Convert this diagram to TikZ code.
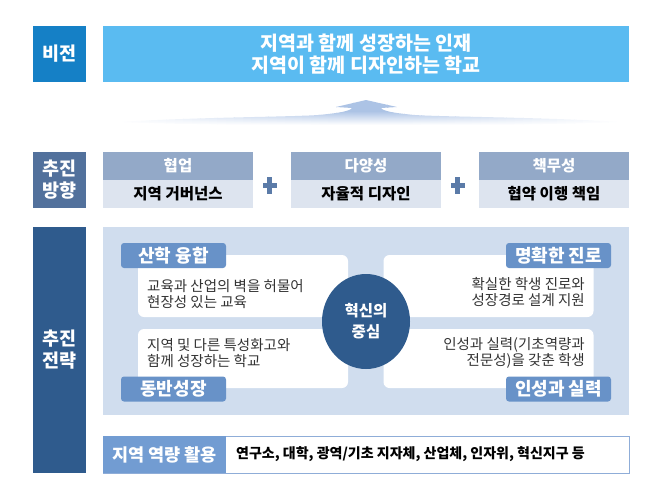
\documentclass[tikz,border=0pt]{standalone}
\usepackage{fontspec}
\setmainfont{Noto Sans CJK KR}
\usetikzlibrary{shapes.geometric}
\definecolor{visdark}{HTML}{1580C6}
\definecolor{vislight}{HTML}{5ABBF1}
\definecolor{dirc}{HTML}{52719C}
\definecolor{hdrc}{HTML}{93A9C8}
\definecolor{bodyc}{HTML}{DDE4EF}
\definecolor{plusc}{HTML}{5B7BA8}
\definecolor{navy}{HTML}{2F5B8D}
\definecolor{panelc}{HTML}{D0DDEE}
\definecolor{labc}{HTML}{6892C8}
\definecolor{botlab}{HTML}{729CD2}
\definecolor{bordc}{HTML}{8FADD8}
\definecolor{arrowc}{HTML}{ABC2E5}
\definecolor{txtc}{HTML}{333333}
\tikzset{
  sidelab/.style={fill=#1, text=white, inner sep=0pt, minimum width=53pt, align=center,
    font=\bfseries\fontsize{18.5}{22}\selectfont},
  visbox/.style={fill=vislight, text=white, inner sep=0pt, minimum width=526pt, minimum height=56pt,
    align=center, font=\bfseries\fontsize{19.5}{22}\selectfont},
  hdr/.style={fill=hdrc, text=white, inner sep=0pt, minimum width=150pt, minimum height=28pt,
    font=\bfseries\fontsize{15.5}{17}\selectfont},
  bodyb/.style={fill=bodyc, text=black, inner sep=0pt, minimum width=150pt, minimum height=28pt,
    font=\bfseries\fontsize{15.5}{17}\selectfont},
  wbox/.style={fill=white, rounded corners=6pt, inner sep=0pt, minimum width=210pt},
  lab/.style={fill=labc, text=white, rounded corners=3pt, inner sep=0pt, minimum width=105pt,
    minimum height=25pt, font=\bfseries\fontsize{18}{20}\selectfont},
  btext/.style={text=txtc, inner sep=0pt, font=\fontsize{14.5}{16}\selectfont},
}
\begin{document}
\begin{tikzpicture}[x=1pt,y=-1pt]
\useasboundingbox (0,0) rectangle (648,491);
% vision row
\node[sidelab=visdark, minimum height=56pt] (vlab) at (59.5,54) {비전};
\node[visbox] (vision) at (366,54) {지역과 함께 성장하는 인재\\지역이 함께 디자인하는 학교};
% upward arrow (soft, fading to white), drawn as a grid of flat tints
\begin{scope}
\clip (118,122) .. controls (200,117) and (290,117) .. (318,115)
  .. controls (340,113) and (350,111) .. (352,108) -- (336,107) -- (366,100) -- (397,107) -- (381,108)
  .. controls (383,111) and (393,113) .. (415,115)
  .. controls (445,117) and (540,117) .. (622,122)
  .. controls (500,127) and (240,127) .. (118,122) -- cycle;
\foreach \i in {0,...,27} {
  \foreach \j in {0,...,59} {
    \pgfmathsetmacro\xx{115+8.5*\j}
    \pgfmathsetmacro\pv{max(0,min(100,100-(\i-12)*7.2))}
    \pgfmathsetmacro\ph{max(0,100-100*(abs(\xx+4.25-368)/262)^1.8)}
    \pgfmathtruncatemacro\pc{\pv*\ph/100}
    \fill[arrowc!\pc!white] (\xx,{99+\i}) rectangle ({\xx+9},{100.4+\i});
  }
}
\end{scope}
% direction row
\node[sidelab=dirc, minimum height=56pt] (dlab) at (59.5,180) {추진\\방향};
\node[hdr] (h1) at (178,166) {협업};
\node[bodyb] (b1) at (178,194) {지역 거버넌스};
\node[hdr] (h2) at (366,166) {다양성};
\node[bodyb] (b2) at (366,194) {자율적 디자인};
\node[hdr] (h3) at (554,166) {책무성};
\node[bodyb] (b3) at (554,194) {협약 이행 책임};
\fill[plusc] (267,177) rectangle (272,194);
\fill[plusc] (262.5,183) rectangle (276.5,188);
\fill[plusc] (455,177) rectangle (460,194);
\fill[plusc] (450.5,183) rectangle (464.5,188);
% strategy
\node[sidelab=navy, minimum height=246pt] (slab) at (59.5,350) {추진\\전략};
\node[fill=panelc, inner sep=0pt, minimum width=526pt, minimum height=188pt] (panel) at (366,321) {};
\node[wbox, minimum height=62pt] (wul) at (243,286) {};
\node[wbox, minimum height=59pt] (wll) at (243,358.5) {};
\node[wbox, minimum height=62pt] (wur) at (488.5,286) {};
\node[wbox, minimum height=59pt] (wlr) at (488.5,358.5) {};
\node[btext, anchor=west, align=left] (tul) at (147,294) {교육과 산업의 벽을 허물어\\현장성 있는 교육};
\node[btext, anchor=west, align=left] (tll) at (147,353.5) {지역 및 다른 특성화고와\\함께 성장하는 학교};
\node[btext, anchor=east, align=right] (tur) at (585,292.5) {확실한 학생 진로와\\성장경로 설계 지원};
\node[btext, anchor=east, align=right] (tlr) at (585,353) {인성과 실력(기초역량과\\전문성)을 갖춘 학생};
\node[lab] (l1) at (173.5,255.5) {산학 융합};
\node[lab] (l2) at (173.5,389) {동반성장};
\node[lab] (l3) at (558.5,255.5) {명확한 진로};
\node[lab] (l4) at (558.5,389) {인성과 실력};
\node[ellipse, fill=navy, text=white, inner sep=0pt, minimum width=88pt, minimum height=95pt,
  align=center, font=\bfseries\fontsize{15.5}{21}\selectfont] (core) at (366,321.5) {혁신의\\중심};
% bottom bar
\node[fill=white, draw=bordc, line width=0.8pt, inner sep=0pt, minimum width=526pt, minimum height=37pt] (bar) at (366,454.5) {};
\node[fill=botlab, text=white, inner sep=0pt, minimum width=123pt, minimum height=37pt,
  font=\bfseries\fontsize{17.5}{19}\selectfont] (blab) at (164.5,454.5) {지역 역량 활용};
\node[anchor=west, inner sep=0pt, text=black, font=\bfseries\fontsize{14}{16}\selectfont] (btxt) at (236,454.5)
  {연구소, 대학, 광역/기초 지자체, 산업체, 인자위, 혁신지구 등};
\end{tikzpicture}
\end{document}
